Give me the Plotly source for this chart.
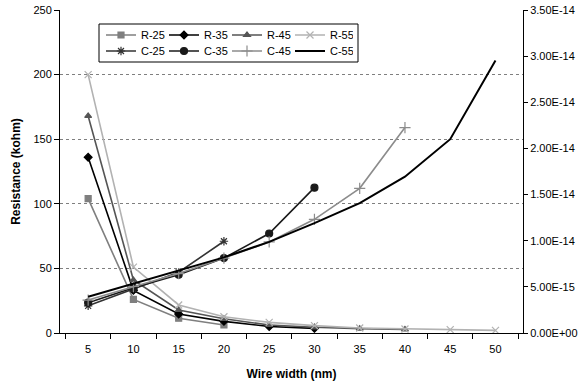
import plotly.graph_objects as go

widths = ["5", "10", "15", "20", "25", "30", "35", "40", "45", "50"]

r25 = [104, 26, 11.4, 6.2]
r35 = [136, 33, 14.7, 9.0, 5.0, 3.6]
r45 = [168, 41, 17.8, 11.0, 6.2, 4.4, 3.4, 2.8]
r55 = [200, 51, 21.7, 12.6, 8.2, 5.7, 3.9, 3.1, 2.6, 2.0]

c25 = [2.94e-15, 4.76e-15, 6.58e-15, 9.94e-15]
c35 = [3.29e-15, 4.90e-15, 6.30e-15, 8.12e-15, 1.078e-14, 1.575e-14]
c45 = [3.57e-15, 5.04e-15, 6.44e-15, 8.12e-15, 9.87e-15, 1.232e-14, 1.568e-14, 2.226e-14]
c55 = [3.92e-15, 5.32e-15, 6.72e-15, 8.19e-15, 9.87e-15, 1.19e-14, 1.407e-14, 1.694e-14, 2.10e-14, 2.954e-14]

y2_ticks = [0, 5e-15, 1e-14, 1.5e-14, 2e-14, 2.5e-14, 3e-14, 3.5e-14]
y2_labels = ["0.00E+00", "5.00E-15", "1.00E-14", "1.50E-14", "2.00E-14", "2.50E-14", "3.00E-14", "3.50E-14"]

FAM = "Liberation Sans"

fig = go.Figure()

def add(name, ys, color, symbol, size, yaxis, legend, width=1.6, mode="lines+markers"):
    fig.add_trace(go.Scatter(
        x=widths[:len(ys)], y=ys, name=name, mode=mode, yaxis=yaxis, legend=legend,
        line=dict(color=color, width=width),
        marker=dict(symbol=symbol, size=size, color=color, line=dict(color=color, width=1.2)),
    ))

add("R-25", r25, "#7f7f7f", "square", 6, "y", "legend")
add("R-35", r35, "#000000", "diamond", 6, "y", "legend")
add("R-45", r45, "#555555", "triangle-up", 6, "y", "legend")
add("R-55", r55, "#b2b2b2", "x-thin-open", 7, "y", "legend")
add("C-25", c25, "#333333", "asterisk-open", 7, "y2", "legend2")
add("C-35", c35, "#1a1a1a", "circle", 7, "y2", "legend2")
add("C-45", c45, "#8c8c8c", "cross-thin-open", 8, "y2", "legend2")
add("C-55", c55, "#000000", "circle", 1, "y2", "legend2", width=2, mode="lines")

font = dict(family=FAM, size=11, color="#000000")

def px_to_paper_x(px):
    return (px - 60) / 463

def px_to_paper_y(py):
    return (333 - py) / 323

legend_common = dict(
    orientation="h", xanchor="left", yanchor="middle",
    bgcolor="rgba(0,0,0,0)", borderwidth=0,
    font=dict(family=FAM, size=11, color="#000000"),
    entrywidth=18, itemwidth=30, tracegroupgap=0,
)

fig.update_layout(
    width=587, height=383,
    margin=dict(l=60, r=64, t=10, b=50, autoexpand=False),
    paper_bgcolor="white", plot_bgcolor="white",
    font=font,
    showlegend=True,
    legend=dict(x=px_to_paper_x(101), y=px_to_paper_y(35), **legend_common),
    legend2=dict(x=px_to_paper_x(101), y=px_to_paper_y(51), **legend_common),
    xaxis=dict(
        type="category", categoryorder="array", categoryarray=widths,
        tickson="boundaries", ticks="outside", ticklen=5, tickcolor="#000000",
        ticklabelstandoff=6,
        showline=True, linecolor="#000000", linewidth=1, showgrid=False,
        title=dict(text="<b>Wire width (nm)</b>", font=dict(size=12), standoff=15),
        tickfont=dict(size=11), automargin=False,
    ),
    yaxis=dict(
        range=[0, 250], tickvals=[0, 50, 100, 150, 200, 250],
        ticks="outside", ticklen=5, tickcolor="#000000",
        showline=True, linecolor="#000000", linewidth=1,
        showgrid=True, gridcolor="#7f7f7f", griddash="3px,3px", gridwidth=1,
        zeroline=False, automargin=False,
        title=dict(text="<b>Resistance (kohm)</b>", font=dict(size=12), standoff=10),
    ),
    yaxis2=dict(
        overlaying="y", side="right", range=[0, 3.5e-14],
        tickvals=y2_ticks, ticktext=y2_labels,
        ticks="outside", ticklen=4, tickcolor="#000000",
        showline=True, linecolor="#000000", linewidth=1,
        showgrid=False, zeroline=False, automargin=False,
    ),
    shapes=[dict(
        type="rect", xref="paper", yref="paper",
        x0=px_to_paper_x(99), x1=px_to_paper_x(358),
        y0=px_to_paper_y(62), y1=px_to_paper_y(24),
        line=dict(color="#000000", width=1), fillcolor="white", layer="above",
    )],
)

fig.write_html(
    "out.html",
    config={"displayModeBar": False},
    post_script="document.body.style.margin='0';document.body.style.padding='0';",
)
